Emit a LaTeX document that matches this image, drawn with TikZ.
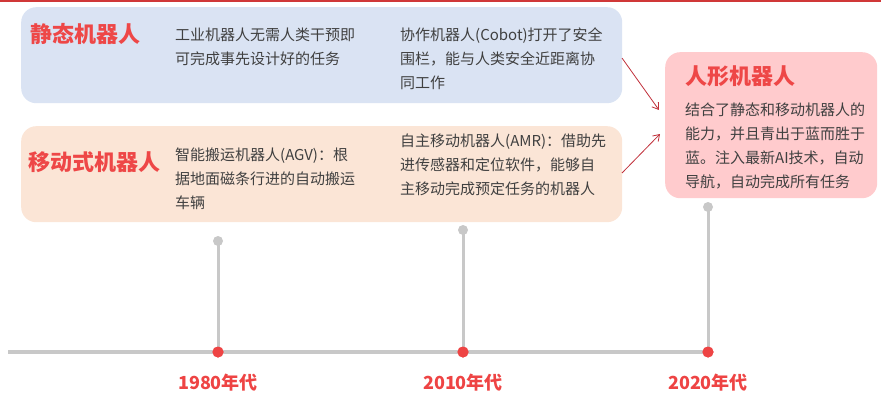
\documentclass[tikz,border=0pt]{standalone}
\usepackage{fontspec}
\setmainfont{Noto Sans CJK SC}
\usetikzlibrary{arrows.meta}
\definecolor{bluebox}{HTML}{DAE3F3}
\definecolor{peachbox}{HTML}{FBE5D6}
\definecolor{pinkbox}{HTML}{FFCBCD}
\definecolor{titlered}{HTML}{EE4747}
\definecolor{bodygray}{HTML}{404040}
\definecolor{linegray}{HTML}{C8C8C8}
\definecolor{dotred}{HTML}{EE4444}
\definecolor{arrowred}{HTML}{C0303A}
\definecolor{topred}{HTML}{D03838}
\tikzset{
  panel/.style={fill=#1, draw=none, rounded corners=15pt, inner sep=0pt, anchor=north west},
  titletext/.style={anchor=west, inner sep=0pt, text=titlered, font={\fontsize{22}{26}\selectfont\bfseries}},
  bodytext/.style={anchor=north west, inner sep=0pt, align=left, text=bodygray, font={\fontsize{15}{24}\selectfont}},
  yeartext/.style={anchor=center, inner sep=0pt, text=dotred, font={\fontsize{18}{20}\selectfont\bfseries}},
  stem/.style={draw=linegray, line width=3pt},
  knob/.style={circle, fill=linegray, inner sep=0pt, minimum size=10pt},
  reddot/.style={circle, fill=dotred, inner sep=0pt, minimum size=11pt},
  conn/.style={draw=arrowred, line width=0.8pt, -{Straight Barb[length=6pt,width=8pt]}}
}
\begin{document}
\begin{tikzpicture}[x=1pt,y=-1pt]
\useasboundingbox (0,0) rectangle (881,396);
% top red line
\coordinate (tl) at (0,1);
\coordinate (tr) at (881,1);
\draw[topred, line width=2pt] (tl) -- (tr);
% panels
\node[panel=bluebox, minimum width=601pt, minimum height=96pt] (blue) at (21,7) {};
\node[panel=peachbox, minimum width=601pt, minimum height=96pt] (peach) at (21,126) {};
\node[panel=pinkbox, minimum width=212pt, minimum height=146pt] (pink) at (665,52) {};
% titles
\node[titletext] (t1) at (30,34) {静态机器人};
\node[titletext] (t2) at (28,162) {移动式机器人};
\node[titletext] (t3) at (685,76) {人形机器人};
% body texts
\node[bodytext] (b1) at (175,27.5) {工业机器人无需人类干预即\\可完成事先设计好的任务};
\node[bodytext] (b2) at (400,27.5) {协作机器人(Cobot)打开了安全\\围栏，能与人类安全近距离协\\同工作};
\node[bodytext] (b3) at (175,147.5) {智能搬运机器人(AGV)：根\\据地面磁条行进的自动搬运\\车辆};
\node[bodytext] (b4) at (400,133.5) {自主移动机器人(AMR)：借助先\\进传感器和定位软件，能够自\\主移动完成预定任务的机器人};
\node[bodytext] (b5) at (685,102.5) {结合了静态和移动机器人的\\能力，并且青出于蓝而胜于\\蓝。注入最新AI技术，自动\\导航，自动完成所有任务};
% connectors
\coordinate (a1s) at (622,58);
\coordinate (a1e) at (659,110);
\coordinate (a2s) at (622,173);
\coordinate (a2e) at (660,134);
\draw[conn] (a1s) -- (a1e);
\draw[conn] (a2s) -- (a2e);
% timeline
\coordinate (axl) at (8,352);
\coordinate (axr) at (708,352);
\draw[draw=linegray, line width=4pt] (axl) -- (axr);
\node[knob] (k1) at (218,241) {};
\node[knob] (k2) at (463,230) {};
\node[knob] (k3) at (708,207) {};
\node[reddot] (d1) at (218,352) {};
\node[reddot] (d2) at (463,352) {};
\node[reddot] (d3) at (708,352) {};
\draw[stem] (k1.center) -- (d1.center);
\draw[stem] (k2.center) -- (d2.center);
\draw[stem] (k3.center) -- (d3.center);
\node[reddot] at (218,352) {};
\node[reddot] at (463,352) {};
\node[reddot] at (708,352) {};
\node[yeartext] (y1) at (218,383) {1980年代};
\node[yeartext] (y2) at (463,383) {2010年代};
\node[yeartext] (y3) at (708,383) {2020年代};
\end{tikzpicture}
\end{document}
